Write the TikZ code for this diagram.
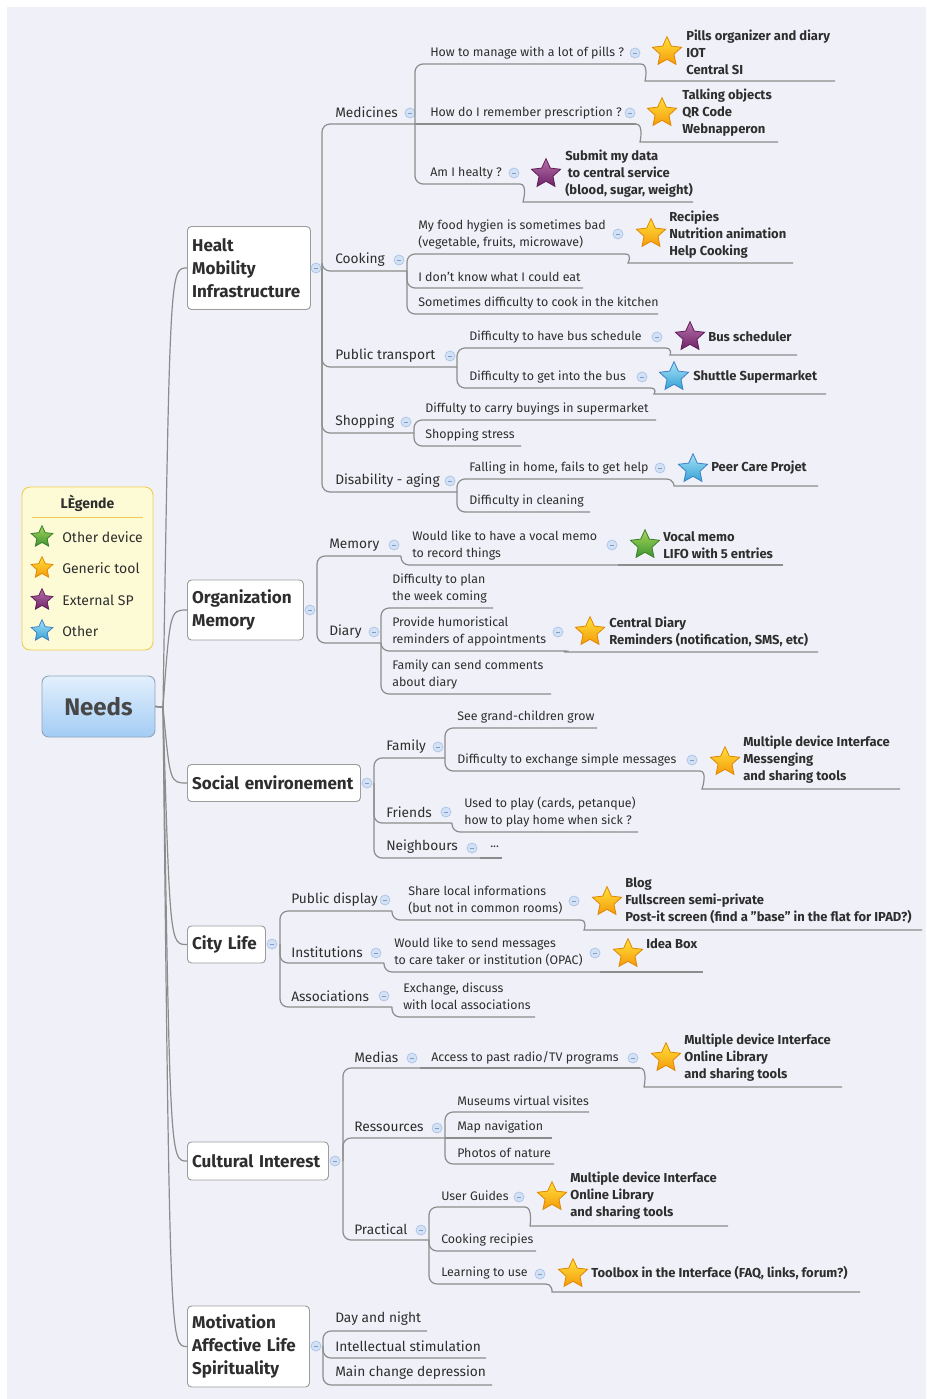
\documentclass[tikz,border=0pt]{standalone}
\usepackage{fontspec}
\setmainfont{Fira Sans}
\usetikzlibrary{shapes.geometric}
\definecolor{bg}{HTML}{F0F1F8}
\definecolor{txt}{HTML}{2E2E2E}
\definecolor{lnc}{HTML}{8C8C8C}
\definecolor{boxb}{HTML}{9C9C9C}
\definecolor{colf}{HTML}{D3E1F5}
\definecolor{colb}{HTML}{A9C1E6}
\definecolor{colm}{HTML}{7E9CCB}
\definecolor{goldt}{HTML}{FFE23A}
\definecolor{goldd}{HTML}{F59A0C}
\definecolor{goldb}{HTML}{E08600}
\definecolor{purt}{HTML}{B872AC}
\definecolor{purd}{HTML}{6E2266}
\definecolor{purb}{HTML}{5E1D58}
\definecolor{blut}{HTML}{A8E2F6}
\definecolor{blud}{HTML}{34A2D6}
\definecolor{blub}{HTML}{3E80C4}
\definecolor{grnt}{HTML}{A8D65A}
\definecolor{grnd}{HTML}{3C9430}
\definecolor{grnb}{HTML}{3A7E2E}
\definecolor{legf}{HTML}{FDFBD6}
\definecolor{legb}{HTML}{F2CC4E}
\definecolor{needt}{HTML}{E3F0FD}
\definecolor{needd}{HTML}{A3CCF4}
\definecolor{needb}{HTML}{8EA4BC}
\tikzset{
 lbl/.style={anchor=west, inner sep=0pt, align=left, text=txt, font=\fontsize{9.3}{12.75}\selectfont},
 l2/.style={lbl, font=\fontsize{10.3}{13}\selectfont},
 rtxt/.style={lbl, font=\bfseries\fontsize{9.75}{12.75}\selectfont},
 conn/.style={draw=lnc, line width=0.9pt, rounded corners=6pt},
 mconn/.style={draw=lnc, line width=0.9pt},
 coll/.style={circle, draw=colb, fill=colf, line width=0.5pt, minimum size=7.5pt, inner sep=0pt,
   path picture={\draw[colm, line width=0.6pt] ([xshift=-1.6pt]path picture bounding box.center) -- ([xshift=1.6pt]path picture bounding box.center);}},
 mstar/.style={star, star points=5, star point ratio=2.1, minimum size=23pt, inner sep=0pt, line width=0.6pt},
 gold/.style={mstar, draw=goldb, top color=goldt, bottom color=goldd},
 purple/.style={mstar, draw=purb, top color=purt, bottom color=purd},
 blue/.style={mstar, draw=blub, top color=blut, bottom color=blud},
 green/.style={mstar, draw=grnb, top color=grnt, bottom color=grnd},
 small/.style={minimum size=17pt},
 mainbox/.style={anchor=west, draw=boxb, fill=white, line width=0.7pt, rounded corners=3pt, inner xsep=3.5pt,
   align=left, text=txt, font=\bfseries\fontsize{12.8}{17}\selectfont},
}
\newcommand\tp[5]{\node[#2] (#1) at (#3) {#4}; \coordinate (#1-e) at (#5);}
\newcommand\rs[7]{\node[#4] (#1-st) at (#5) {}; \node[rtxt] (#1) at (#2) {#3};
  \coordinate (#1-s) at (#6); \coordinate (#1-e) at (#7);}
\newcommand\co[2]{\node[coll] (#1-c) at (#2) {};}
\newcommand\lk[2]{\draw[conn] (#1-e) |- (#2-e);}
\newcommand\lks[2]{\draw[conn] (#1-e) -- (#2-e);}
\newcommand\rl[2]{\draw[conn] (#1-e) .. controls +(8,0) and +(-8,0) .. (#2-s) -- (#2-e);}
\begin{document}
\begin{tikzpicture}[x=0.75pt,y=-0.75pt]
\useasboundingbox (0,0) rectangle (926,1399);
\fill[white] (0,0) rectangle (926,1399);
\fill[bg] (7,7) rectangle (926,1399);

% ---------- legend ----------
\node[draw=legb, fill=legf, rounded corners=6pt, line width=0.7pt, minimum width=98.25pt, minimum height=122.25pt] (leg) at (87.5,568.5) {};
\node[text=txt, font=\bfseries\fontsize{10.5}{12}\selectfont] (legt) at (87.5,503) {LÈgende};
\draw[legb, line width=0.6pt] (32,517) -- (143,517);
\node[green, small] (lg1) at (42,537) {};
\node[lbl, font=\fontsize{10.5}{12}\selectfont] (lt1) at (62,537) {Other device};
\node[gold, small] (lg2) at (42,568) {};
\node[lbl, font=\fontsize{10.5}{12}\selectfont] (lt2) at (62,568) {Generic tool};
\node[purple, small] (lg3) at (42,600) {};
\node[lbl, font=\fontsize{10.5}{12}\selectfont] (lt3) at (62,600) {External SP};
\node[blue, small] (lg4) at (42,631) {};
\node[lbl, font=\fontsize{10.5}{12}\selectfont] (lt4) at (62,631) {Other};

% ---------- root ----------
\node[draw=needb, top color=needt, bottom color=needd, rounded corners=5pt, line width=0.7pt,
  minimum width=84.75pt, minimum height=45.75pt, text=black!72, font=\bfseries\fontsize{18}{20}\selectfont] (needs) at (98.5,706.5) {Needs};
\coordinate (hub) at (163,707);

% ---------- main topics ----------
\node[mainbox, text width=85.25pt, minimum height=62.25pt] (hlt) at (187,268) {Healt\\Mobility\\Infrastructure};
\node[mainbox, text width=80pt, minimum height=45pt] (org) at (187,610) {Organization\\Memory};
\node[mainbox, text width=122.75pt, minimum height=27.75pt] (soc) at (187,783) {Social environement};
\node[mainbox, text width=51.5pt, minimum height=27.75pt] (cit) at (187,944.5) {City Life};
\node[mainbox, text width=98.75pt, minimum height=28.5pt] (cul) at (187,1161) {Cultural Interest};
\node[mainbox, text width=84.5pt, minimum height=60.75pt] (mot) at (187,1346.5) {Motivation\\Affective Life\\Spirituality};
\coordinate (hlt-e) at (322,268);
\coordinate (org-e) at (317,610);
\coordinate (soc-e) at (374,783);
\coordinate (cit-e) at (280,944);
\coordinate (cul-e) at (343,1161);
\coordinate (mot-e) at (323,1346);
\co{hlt}{316,268}\co{org}{310,610}\co{soc}{367,783}\co{cit}{272,944}\co{cul}{335,1161}\co{mot}{316,1346}

\foreach \t/\ty in {hlt/268, org/610, soc/783, cit/944.5, cul/1161, mot/1346.5}
  \draw[mconn] (needs.east) -- (hub) .. controls (170,\ty) .. (\t.west);

% ---------- Healt ----------
\tp{med}{l2}{335,112}{Medicines}{415,124}\co{med}{410,113}
\tp{pil}{lbl}{430,53}{How to manage with a lot of pills ?}{641,64}\co{pil}{635,53}
\rs{pilR}{686,52.5}{Pills organizer and diary\\IOT\\Central SI}{gold}{667,52}{653,81}{835,81}
\tp{pre}{lbl}{430,113}{How do I remember prescription ?}{636,124}\co{pre}{630,113}
\rs{preR}{682,113}{Talking objects\\QR Code\\Webnapperon}{gold}{662,113}{648,142}{778,142}
\tp{hea}{lbl}{430,173}{Am I healty ?}{520,184}\co{hea}{514,173}
\rs{heaR}{565,173.5}{Submit my data\\\hspace{2pt}to central service\\(blood, sugar, weight)}{purple}{546,174}{531,202}{693,202}

\tp{coo}{l2}{335,260}{Cooking}{407,271}\co{coo}{399,260}
\tp{foo}{lbl}{418,234.5}{My food hygien is sometimes bad\\(vegetable, fruits, microwave)}{625,254}\co{foo}{618,234}
\rs{fooR}{669,234.5}{Recipies\\Nutrition animation\\Help Cooking}{gold}{651,234}{636,263}{793,263}
\tp{kno}{lbl}{418,277}{I don't know what I could eat}{583,288}
\tp{som}{lbl}{418,303}{Sometimes difficulty to cook in the kitchen}{658,314}

\tp{pub}{l2}{335,356}{Public transport}{457,367}\co{pub}{450,356}
\tp{bus}{lbl}{469,337}{Difficulty to have bus schedule}{665,348}\co{bus}{657,337}
\rs{busR}{708,337}{Bus scheduler}{purple}{690,337}{678,355}{797,355}
\tp{get}{lbl}{469,377}{Difficulty to get into the bus}{650,388}\co{get}{642,377}
\rs{getR}{693,377}{Shuttle Supermarket}{blue}{674,377}{662,394}{826,394}

\tp{sho}{l2}{335,422}{Shopping}{414,433}\co{sho}{406,422}
\tp{car}{lbl}{425,409}{Diffulty to carry buyings in supermarket}{656,420}
\tp{str}{lbl}{425,435}{Shopping stress}{521,446}

\tp{dis}{l2}{335,481}{Disability - aging}{457,492}\co{dis}{450,481}
\tp{fal}{lbl}{469,468}{Falling in home, fails to get help}{666,479}\co{fal}{660,468}
\rs{falR}{711,468}{Peer Care Projet}{blue}{693,469}{682,486}{818,486}
\tp{cle}{lbl}{469,501}{Difficulty in cleaning}{590,512}

% ---------- Organization ----------
\tp{mem}{l2}{329,545}{Memory}{401,556}\co{mem}{394,545}
\tp{voc}{lbl}{412,545.5}{Would like to have a vocal memo\\to record things}{618,565}\co{voc}{612,545}
\rs{vocR}{663,545.5}{Vocal memo\\LIFO with 5 entries}{green}{645,545}{618,565}{783,565}
\tp{dia}{l2}{329,632}{Diary}{381,643}\co{dia}{374,632}
\tp{pla}{lbl}{392,588.5}{Difficulty to plan\\the week coming}{493,608}
\tp{hum}{lbl}{392,631.5}{Provide humoristical\\reminders of appointments}{564,651}\co{hum}{558,632}
\rs{humR}{609,631.5}{Central Diary\\Reminders (notification, SMS, etc)}{gold}{590,632}{572,652}{818,652}
\tp{fcs}{lbl}{392,674.5}{Family can send comments\\about diary}{551,694}

% ---------- Social ----------
\tp{fam}{l2}{386,747}{Family}{445,758}\co{fam}{438,747}
\tp{gra}{lbl}{457,717}{See grand-children grow}{597,728}
\tp{exc}{lbl}{457,760}{Difficulty to exchange simple messages}{700,771}\co{exc}{692,760}
\rs{excR}{743,760}{Multiple device Interface\\Messenging\\and sharing tools}{gold}{725,762}{710,789}{900,789}
\tp{fri}{l2}{386,812}{Friends}{452,823}\co{fri}{446,812}
\tp{ply}{lbl}{464,812}{Used to play (cards, petanque)\\how to play home when sick ?}{638,832}
\tp{nei}{l2}{386,847}{Neighbours}{480,858}\co{nei}{472,848}
\tp{dot}{lbl}{490,847}{...}{502,858}

% ---------- City ----------
\tp{pdi}{l2}{291,900}{Public display}{392,911}\co{pdi}{385,900}
\tp{sha}{lbl}{408,900.5}{Share local informations\\(but not in common rooms)}{580,920}\co{sha}{574,901}
\rs{shaR}{625,901}{Blog\\Fullscreen semi-private\\Post-it screen (find a \symbol{34}base\symbol{34} in the flat for IPAD?)}{gold}{607,902}{592,930}{922,930}
\tp{ins}{l2}{291,952}{Institutions}{384,963}\co{ins}{376,953}
\tp{sen}{lbl}{394,952.5}{Would like to send messages\\to care taker or institution (OPAC)}{600,972}\co{sen}{595,953}
\rs{senR}{646,944}{Idea Box}{gold}{628,954}{600,972}{703,972}
\tp{ass}{l2}{291,996}{Associations}{392,1007}\co{ass}{384,996}
\tp{exd}{lbl}{403,996.5}{Exchange, discuss\\with local associations}{535,1017}

% ---------- Cultural ----------
\tp{mdi}{l2}{354,1057}{Medias}{420,1068}\co{mdi}{412,1058}
\tp{acc}{lbl}{431,1058}{Access to past radio/TV programs}{640,1068}\co{acc}{633,1058}
\rs{accR}{684,1058}{Multiple device Interface\\Online Library\\and sharing tools}{gold}{666,1058}{652,1087}{842,1087}
\tp{rss}{l2}{354,1127}{Ressources}{445,1138}\co{rss}{437,1128}
\tp{mus}{lbl}{457,1101}{Museums virtual visites}{589,1112}
\tp{map}{lbl}{457,1127}{Map navigation}{552,1138}
\tp{pho}{lbl}{457,1153}{Photos of nature}{554,1164}
\tp{pra}{l2}{354,1229}{Practical}{429,1240}\co{pra}{421,1230}
\tp{usg}{lbl}{441,1196}{User Guides}{525,1207}\co{usg}{519,1197}
\rs{usgR}{570,1196}{Multiple device Interface\\Online Library\\and sharing tools}{gold}{552,1197}{538,1226}{728,1226}
\tp{cre}{lbl}{441,1240}{Cooking recipies}{536,1251}
\tp{lea}{lbl}{441,1273}{Learning to use}{545,1284}\co{lea}{540,1274}
\rs{leaR}{591,1273}{Toolbox in the Interface (FAQ, links, forum?)}{gold}{573,1274}{560,1292}{860,1292}

% ---------- Motivation ----------
\tp{day}{l2}{335,1319}{Day and night}{427,1331}
\tp{itl}{l2}{335,1346}{Intellectual stimulation}{486,1358}
\tp{mai}{l2}{335,1373}{Main change depression}{492,1385}

% ---------- connectors ----------
\lk{hlt}{med}\lk{hlt}{coo}\lk{hlt}{pub}\lk{hlt}{sho}\lk{hlt}{dis}
\lk{med}{pil}\lks{med}{pre}\lk{med}{hea}
\rl{pil}{pilR}\rl{pre}{preR}\rl{hea}{heaR}
\lk{coo}{foo}\lk{coo}{kno}\lk{coo}{som}\rl{foo}{fooR}
\lk{pub}{bus}\lk{pub}{get}\rl{bus}{busR}\rl{get}{getR}
\lk{sho}{car}\lk{sho}{str}
\lk{dis}{fal}\lk{dis}{cle}\rl{fal}{falR}

\lk{org}{mem}\lk{org}{dia}
\lk{mem}{voc}\lks{voc}{vocR}
\lk{dia}{pla}\lk{dia}{hum}\lk{dia}{fcs}\rl{hum}{humR}

\lk{soc}{fam}\lk{soc}{fri}\lk{soc}{nei}
\lk{fam}{gra}\lk{fam}{exc}\rl{exc}{excR}
\lk{fri}{ply}\lks{nei}{dot}

\lk{cit}{pdi}\lk{cit}{ins}\lk{cit}{ass}
\lk{pdi}{sha}\rl{sha}{shaR}
\lk{ins}{sen}\lks{sen}{senR}
\lk{ass}{exd}

\lk{cul}{mdi}\lk{cul}{rss}\lk{cul}{pra}
\lks{mdi}{acc}\rl{acc}{accR}
\lk{rss}{mus}\lks{rss}{map}\lk{rss}{pho}
\lk{pra}{usg}\lk{pra}{cre}\lk{pra}{lea}
\rl{usg}{usgR}\rl{lea}{leaR}

\lk{mot}{day}\lk{mot}{itl}\lk{mot}{mai}
\end{tikzpicture}
\end{document}
